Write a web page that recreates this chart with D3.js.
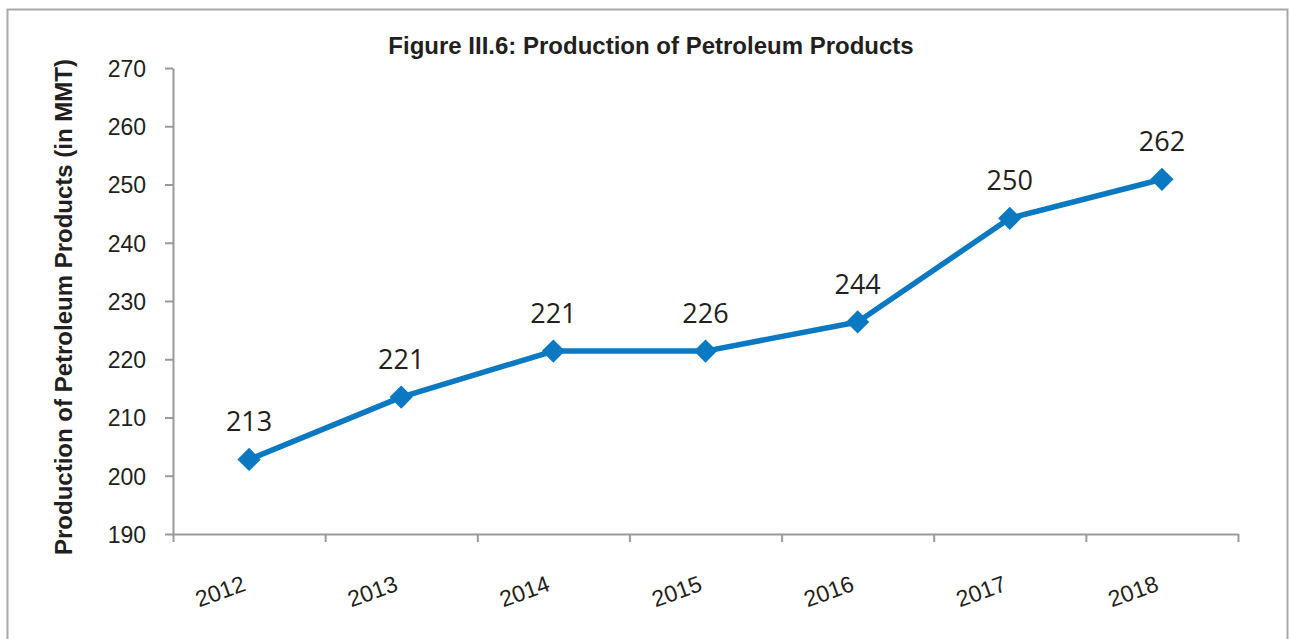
<!DOCTYPE html>
<html>
<head>
<meta charset="utf-8">
<script src="https://cdn.jsdelivr.net/npm/d3@7"></script>
<style>
  body { margin: 0; background: #fff; }
  svg { display: block; }
</style>
</head>
<body>
<div id="chart"></div>
<script>
// chart data
const years = ['2012', '2013', '2014', '2015', '2016', '2017', '2018'];
const production = [202.8, 213.5, 221.4, 221.4, 226.4, 244.2, 250.9];
const pointLabels = ['213', '221', '221', '226', '244', '250', '262'];
const yTicks = [190, 200, 210, 220, 230, 240, 250, 260, 270];

const W = 1291, H = 639;
const margin = { top: 68, right: 53, bottom: 105, left: 173 };
const width = W - margin.left - margin.right,
  height = 534 - margin.top;

const blue = '#0a79c2', ink = '#231f20', axisGrey = '#9a9a9a';

const svg = d3.select('#chart').
  append('svg').
  attr('width', W).
  attr('height', H);

// outer frame
svg.append('rect').
  attr('x', 7.5).attr('y', 9.5).
  attr('width', 1280).attr('height', 700).
  attr('fill', '#fff').
  attr('stroke', '#a8a8a8').attr('stroke-width', 2);

svg.append('text').
  attr('x', 651).attr('y', 54).
  attr('text-anchor', 'middle').
  style('font', 'bold 24px "Liberation Sans", Arial, sans-serif').
  attr('fill', ink).
  text('Figure III.6: Production of Petroleum Products');

svg.append('text').
  attr('transform', 'translate(72,' + (margin.top + height / 2 + 6) + ') rotate(-90)').
  attr('text-anchor', 'middle').
  style('font', 'bold 24px "Liberation Sans", Arial, sans-serif').
  attr('fill', ink).
  text('Production of Petroleum Products (in MMT)');

const chart = svg.append('g').
  attr('transform', 'translate(' + margin.left + ',' + margin.top + ')');

const x = d3.scaleBand().domain(years).range([0, width]).padding(0);
const xEdge = d3.scaleLinear().domain([0, years.length]).range([0, width]);
const y = d3.scaleLinear().domain([190, 270]).range([height, 0]);

// y axis
const yAxis = d3.axisLeft(y).tickValues(yTicks).tickSize(8).tickPadding(19).tickSizeOuter(0);
const gy = chart.append('g').call(yAxis);
gy.select('.domain').attr('stroke', axisGrey).attr('stroke-width', 2);
gy.selectAll('.tick line').attr('stroke', axisGrey).attr('stroke-width', 2);
gy.selectAll('.tick text').
  style('font', '23px "Liberation Sans", Arial, sans-serif').
  attr('fill', ink).attr('dy', '0.36em');

// x axis: ticks on band edges
const xAxis = d3.axisBottom(xEdge).tickValues(d3.range(years.length + 1)).tickSize(8).tickFormat('').tickSizeOuter(0);
const gx = chart.append('g').attr('transform', 'translate(0,' + height + ')').call(xAxis);
gx.select('.domain').attr('stroke', axisGrey).attr('stroke-width', 2);
gx.selectAll('.tick line').attr('stroke', axisGrey).attr('stroke-width', 2);

chart.append('g').selectAll('text').
  data(years).
  enter().append('text').
    attr('transform', function(d) { return 'translate(' + (x(d) + x.bandwidth() / 2 - 2) + ',' + (height + 56) + ') rotate(-20)'; }).
    attr('text-anchor', 'end').
    style('font', '23px "Liberation Sans", Arial, sans-serif').
    attr('fill', ink).
    text(function(d) { return d; });

const cx = function(i) { return x(years[i]) + x.bandwidth() / 2; };

const line = d3.line().
  x(function(d, i) { return cx(i); }).
  y(function(d) { return y(d); });

chart.append('path').
  datum(production).
  attr('d', line).
  attr('fill', 'none').
  attr('stroke', blue).
  attr('stroke-width', 5.5).
  attr('stroke-linejoin', 'round');

chart.selectAll('.marker').
  data(production).
  enter().append('path').
    attr('class', 'marker').
    attr('d', d3.symbol().type(d3.symbolSquare).size(270)).
    attr('transform', function(d, i) { return 'translate(' + cx(i) + ',' + y(d) + ') rotate(45)'; }).
    attr('fill', blue);

chart.selectAll('.point-label').
  data(production).
  enter().append('text').
    attr('class', 'point-label').
    attr('x', function(d, i) { return cx(i); }).
    attr('y', function(d) { return y(d) - 28; }).
    attr('text-anchor', 'middle').
    style('font', '27px "Open Sans", sans-serif').
    attr('fill', ink).
    text(function(d, i) { return pointLabels[i]; });
</script>
</body>
</html>
